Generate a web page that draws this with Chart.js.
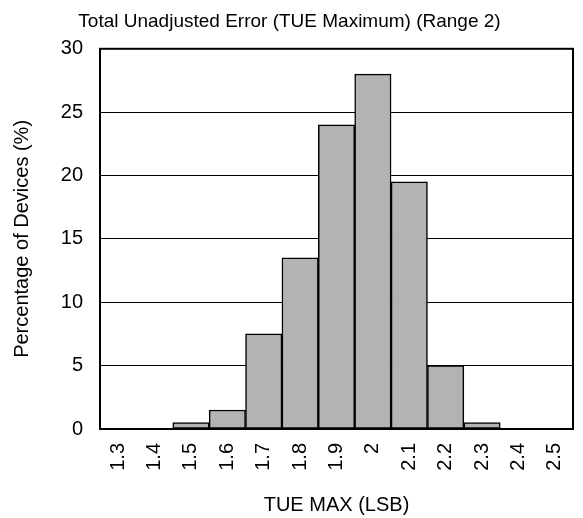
<!DOCTYPE html>
<html>
<head>
<meta charset="utf-8">
<script src="https://cdn.jsdelivr.net/npm/chart.js@4/dist/chart.umd.min.js"></script>
<style>
  html, body { margin: 0; padding: 0; background: #fff; }
  #wrap { width: 583px; height: 518px; }
</style>
</head>
<body>
<div id="wrap"><canvas id="myChart"></canvas></div>
<script>
var bins = ['1.3', '1.4', '1.5', '1.6', '1.7', '1.8', '1.9', '2', '2.1', '2.2', '2.3', '2.4', '2.5'];
var percent = [0, 0, 0.5, 1.5, 7.5, 13.5, 24, 28, 19.5, 5, 0.5, 0, 0];
var yTicks = [0, 5, 10, 15, 20, 25, 30];

Chart.defaults.font.family = '"Liberation Sans", Arial, sans-serif';
Chart.defaults.color = '#000';

// frame around the plot area
var frame = {
    id: 'frame',
    afterDraw: function(chart) {
        var a = chart.chartArea, c = chart.ctx;
        c.save();
        c.strokeStyle = '#000';
        c.lineWidth = 2;
        c.strokeRect(a.left, a.top, a.right - a.left, a.bottom - a.top);
        c.restore();
    }
};

var ctx = document.getElementById('myChart');
var myChart = new Chart(ctx, {
    type: 'bar',
    data: {
        labels: bins,
        datasets: [{
            label: 'Percentage of Devices',
            data: percent,
            backgroundColor: '#b3b3b3',
            borderColor: '#000',
            borderWidth: 1.5,
            borderSkipped: false,
            categoryPercentage: 1,
            barPercentage: 1
        }]
    },
    options: {
        responsive: true,
        maintainAspectRatio: false,
        animation: false,
        layout: { padding: { left: 6, right: 10, top: 0, bottom: 0 } },
        plugins: {
            legend: { display: false },
            tooltip: { enabled: false },
            title: {
                display: true,
                text: 'Total Unadjusted Error (TUE Maximum) (Range 2)',
                font: { size: 19, weight: 'normal' },
                padding: { top: 10, bottom: 16 }
            }
        },
        scales: {
            x: {
                afterFit: function(axis) {
                    axis.height = 89;
                    axis.paddingLeft = 0;
                    axis.paddingRight = 0;
                },
                grid: { display: false },
                border: { display: false },
                ticks: { font: { size: 20 }, maxRotation: 90, minRotation: 90, padding: 6 },
                title: { display: true, text: 'TUE MAX (LSB)', font: { size: 20 }, padding: { top: 6, bottom: 1 } }
            },
            y: {
                min: 0,
                max: 30,
                afterBuildTicks: function(axis) {
                    axis.ticks = yTicks.map(function(v) { return { value: v }; });
                },
                afterFit: function(axis) {
                    axis.width = 94;
                    axis.paddingTop = 0;
                    axis.paddingBottom = 0;
                },
                grid: { color: '#000', lineWidth: 1, drawTicks: false },
                border: { display: false },
                ticks: { font: { size: 20 }, padding: 17 },
                title: { display: true, text: 'Percentage of Devices (%)', font: { size: 20 }, padding: { top: 4, bottom: 11 } }
            }
        }
    },
    plugins: [frame]
});
</script>
</body>
</html>
